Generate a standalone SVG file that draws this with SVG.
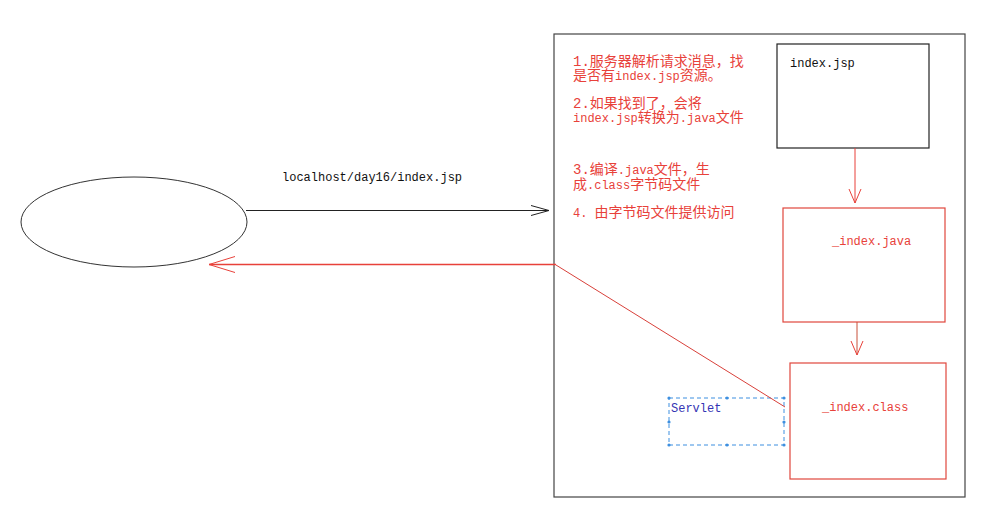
<svg xmlns="http://www.w3.org/2000/svg" width="1008" height="516" viewBox="0 0 1008 516">
<style>
.mono{font-family:"Liberation Mono","Noto Sans CJK SC",monospace;font-size:12px}
.note{font-family:"Liberation Mono","Noto Sans CJK SC",monospace;font-size:14px;fill:#e8413a}
.note .a{font-size:12px}
.red{fill:#e8413a}
.rbox{fill:#fff;stroke:#e0463c;stroke-width:1.2}
</style>
<defs>
<marker id="openBlack" viewBox="0 0 20 12" refX="19" refY="6" markerWidth="20" markerHeight="12" markerUnits="userSpaceOnUse" orient="auto">
<path d="M1,1 L19,6 L1,11" fill="none" stroke="#222" stroke-width="1"/>
</marker>
<marker id="openRed" viewBox="0 0 28 18" refX="27" refY="9" markerWidth="28" markerHeight="18" markerUnits="userSpaceOnUse" orient="auto">
<path d="M1,1 L27,9 L1,17" fill="none" stroke="#e8413a" stroke-width="1"/>
</marker>
<marker id="openRedV" viewBox="0 0 16 14" refX="15" refY="7" markerWidth="16" markerHeight="14" markerUnits="userSpaceOnUse" orient="auto">
<path d="M1,1 L15,7 L1,13" fill="none" stroke="#e8413a" stroke-width="1"/>
</marker>
</defs>
<rect width="1008" height="516" fill="#fff"/>

<g id="server">
<rect x="554" y="34" width="411" height="463" fill="none" stroke="#444" stroke-width="1.2"/>
</g>

<g id="browser">
<ellipse cx="134" cy="222" rx="113" ry="45" fill="#fff" stroke="#333" stroke-width="1"/>
</g>

<g id="notes">
<text class="note" x="573" y="66">1.服务器解析请求消息，找</text>
<text class="note" x="573" y="80">是否有<tspan class="a">index.jsp</tspan>资源。</text>
<text class="note" x="573" y="108">2.如果找到了，会将</text>
<text class="note" x="573" y="122"><tspan class="a">index.jsp</tspan>转换为<tspan class="a">.java</tspan>文件</text>
<text class="note" x="573" y="174">3.编译<tspan class="a">.java</tspan>文件，生</text>
<text class="note" x="573" y="189">成<tspan class="a">.class</tspan>字节码文件</text>
<text class="note" x="573" y="217"><tspan class="a">4. </tspan>由字节码文件提供访问</text>
</g>

<g id="indexjsp">
<rect x="777" y="44" width="152" height="104" fill="#fff" stroke="#222" stroke-width="1.2"/>
<text class="mono" x="790" y="67" fill="#111">index.jsp</text>
</g>

<g id="indexjava">
<rect class="rbox" x="783" y="208" width="162" height="114"/>
<text class="mono red" x="832" y="245">_index.java</text>
</g>

<g id="indexclass">
<rect class="rbox" x="790" y="363" width="156" height="116"/>
<text class="mono red" x="822" y="411">_index.class</text>
</g>

<g id="servlet">
<rect x="669" y="398" width="115" height="47" fill="none" stroke="#3d8fe0" stroke-width="1" stroke-dasharray="4,3"/>
<g fill="#3d8fe0">
<circle cx="669" cy="398" r="1.6"/><circle cx="727" cy="398" r="1.6"/><circle cx="784" cy="398" r="1.6"/>
<circle cx="669" cy="422" r="1.6"/><circle cx="784" cy="422" r="1.6"/>
<circle cx="669" cy="445" r="1.6"/><circle cx="727" cy="445" r="1.6"/><circle cx="784" cy="445" r="1.6"/>
</g>
<text class="mono" x="671" y="412" fill="#3434b4">Servlet</text>
</g>

<g id="connectors">
<line x1="246" y1="210.5" x2="549" y2="210.5" stroke="#222" stroke-width="1" marker-end="url(#openBlack)"/>
<text class="mono" x="282" y="181" fill="#111">localhost/day16/index.jsp</text>
<line x1="556" y1="264.5" x2="209" y2="264.5" stroke="#e8413a" stroke-width="1.3" marker-end="url(#openRed)"/>
<line x1="556" y1="265" x2="785" y2="407" stroke="#d8403a" stroke-width="1"/>
<line x1="855" y1="148" x2="855" y2="203" stroke="#e8413a" stroke-width="1" marker-end="url(#openRedV)"/>
<line x1="857" y1="322" x2="857" y2="355" stroke="#c8503a" stroke-width="1" marker-end="url(#openRedV)"/>
</g>
</svg>
